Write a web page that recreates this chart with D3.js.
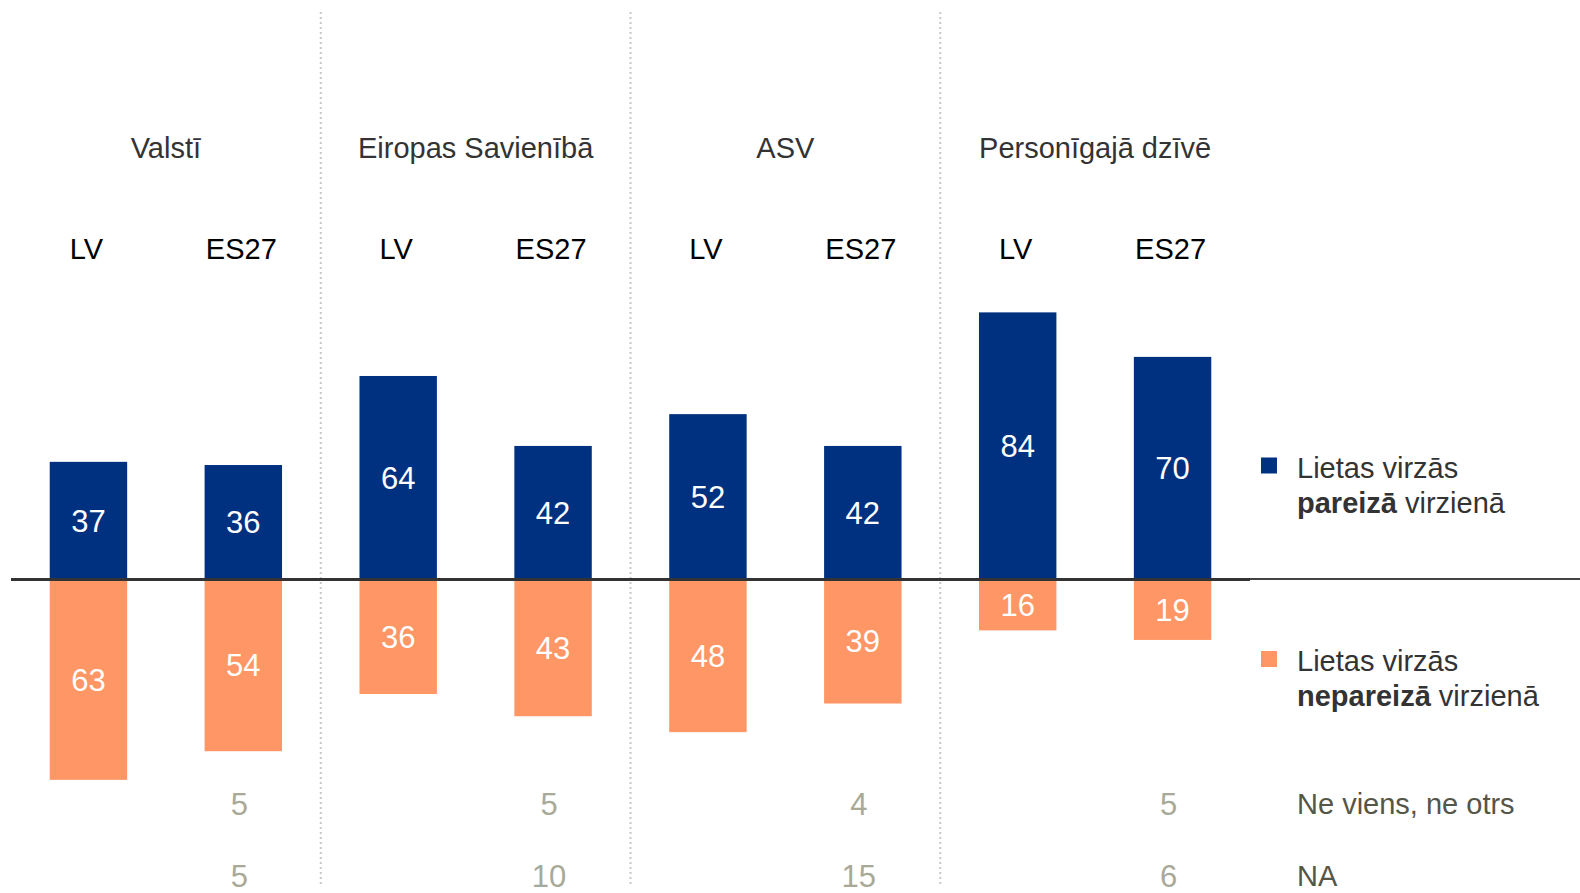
<!DOCTYPE html>
<html>
<head>
<meta charset="utf-8">
<script src="https://cdn.jsdelivr.net/npm/d3@7"></script>
<style>
  body { margin: 0; background: #fff; }
  svg { display: block; font-family: "Liberation Sans", Arial, sans-serif; }
</style>
</head>
<body>
<svg id="chart" width="1580" height="893"></svg>
<script>
// data
var groups = ["Valstī", "Eiropas Savienībā", "ASV", "Personīgajā dzīvē"];
var regions = ["LV", "ES27"];
var rightDir = [37, 36, 64, 42, 52, 42, 84, 70];
var wrongDir = [63, 54, 36, 43, 48, 39, 16, 19];
var neither = [null, 5, null, 5, null, 4, null, 5];
var noAnswer = [null, 5, null, 10, null, 15, null, 6];

var blue = "#003180", orange = "#ff9665", grey = "#a9a998";

var svg = d3.select("#chart");

var keys = [];
groups.forEach(function(g, i) {
	regions.forEach(function(r, j) { keys.push(i * 2 + j); });
});

var x = d3.scaleBand()
	.domain(keys)
	.range([11, 1250])
	.paddingInner(0.5)
	.paddingOuter(0.25);

var y = d3.scaleLinear()
	.domain([-100, 100])
	.range([579.5 + 318, 579.5 - 318]);

var cx = function(k) { return x(k) + x.bandwidth() / 2; };

// group separators
for (var i = 1; i < groups.length; i++) {
	var sx = (x(i * 2 - 1) + x.bandwidth() + x(i * 2)) / 2;
	svg.append("line")
		.attr("x1", sx).attr("x2", sx)
		.attr("y1", 12).attr("y2", 884)
		.attr("stroke", "#c8c8c8")
		.attr("stroke-width", 2)
		.attr("stroke-dasharray", "2,3");
}

// group titles
svg.selectAll(".group")
	.data(groups)
	.enter().append("text")
	.attr("class", "group")
	.attr("x", function(d, i) { return (cx(i * 2) + cx(i * 2 + 1)) / 2; })
	.attr("y", 148)
	.attr("dy", "0.35em")
	.attr("text-anchor", "middle")
	.attr("font-size", 29)
	.attr("fill", "#333")
	.text(function(d) { return d; });

// region labels
svg.selectAll(".region")
	.data(keys)
	.enter().append("text")
	.attr("class", "region")
	.attr("x", function(d) { return cx(d) - 2; })
	.attr("y", 249)
	.attr("dy", "0.35em")
	.attr("text-anchor", "middle")
	.attr("font-size", 29)
	.attr("fill", "#000")
	.text(function(d) { return regions[d % 2]; });

// bars
svg.selectAll(".pos")
	.data(rightDir)
	.enter().append("rect")
	.attr("class", "pos")
	.attr("x", function(d, i) { return x(i); })
	.attr("y", function(d) { return y(d); })
	.attr("width", x.bandwidth())
	.attr("height", function(d) { return y(0) - y(d); })
	.attr("fill", blue);

svg.selectAll(".neg")
	.data(wrongDir)
	.enter().append("rect")
	.attr("class", "neg")
	.attr("x", function(d, i) { return x(i); })
	.attr("y", y(0))
	.attr("width", x.bandwidth())
	.attr("height", function(d) { return y(-d) - y(0); })
	.attr("fill", orange);

// bar labels
svg.selectAll(".posl")
	.data(rightDir)
	.enter().append("text")
	.attr("x", function(d, i) { return cx(i); })
	.attr("y", function(d) { return (y(d) + y(0)) / 2; })
	.attr("dy", "0.35em")
	.attr("text-anchor", "middle")
	.attr("font-size", 31)
	.attr("fill", "#fff")
	.text(function(d) { return d; });

svg.selectAll(".negl")
	.data(wrongDir)
	.enter().append("text")
	.attr("x", function(d, i) { return cx(i); })
	.attr("y", function(d) { return (y(-d) + y(0)) / 2; })
	.attr("dy", "0.35em")
	.attr("text-anchor", "middle")
	.attr("font-size", 31)
	.attr("fill", "#fff")
	.text(function(d) { return d; });

// zero line
svg.append("line")
	.attr("x1", 1250).attr("x2", 1580)
	.attr("y1", y(0) - 0.5).attr("y2", y(0) - 0.5)
	.attr("stroke", "#444").attr("stroke-width", 2);
svg.append("line")
	.attr("x1", 11).attr("x2", 1250)
	.attr("y1", y(0)).attr("y2", y(0))
	.attr("stroke", "#333").attr("stroke-width", 3);

// other answers
function extraRow(vals, yy, label) {
	var rows = vals.map(function(v, i) { return {v: v, i: i}; })
		.filter(function(d) { return d.v != null; });
	svg.selectAll(null)
		.data(rows)
		.enter().append("text")
		.attr("x", function(d) { return cx(d.i) - 4; })
		.attr("y", yy)
		.attr("dy", "0.35em")
		.attr("text-anchor", "middle")
		.attr("font-size", 31)
		.attr("fill", grey)
		.text(function(d) { return d.v; });
	svg.append("text")
		.attr("x", 1297).attr("y", yy)
		.attr("dy", "0.35em")
		.attr("font-size", 29)
		.attr("fill", "#555548")
		.text(label);
}
extraRow(neither, 804, "Ne viens, ne otrs");
extraRow(noAnswer, 876, "NA");

// legend
var legend = [
	{color: blue, y: 467.5, bold: "pareizā"},
	{color: orange, y: 661, bold: "nepareizā"}
];
legend.forEach(function(l) {
	svg.append("rect")
		.attr("x", 1261).attr("y", l.y - 10)
		.attr("width", 16).attr("height", 16)
		.attr("fill", l.color);
	svg.append("text")
		.attr("x", 1297).attr("y", l.y)
		.attr("dy", "0.35em")
		.attr("font-size", 29)
		.attr("fill", "#333")
		.text("Lietas virzās");
	var t = svg.append("text")
		.attr("x", 1297).attr("y", l.y + 35)
		.attr("dy", "0.35em")
		.attr("font-size", 29)
		.attr("fill", "#333");
	t.append("tspan").attr("font-weight", "bold").text(l.bold);
	t.append("tspan").text(" virzienā");
});
</script>
</body>
</html>
